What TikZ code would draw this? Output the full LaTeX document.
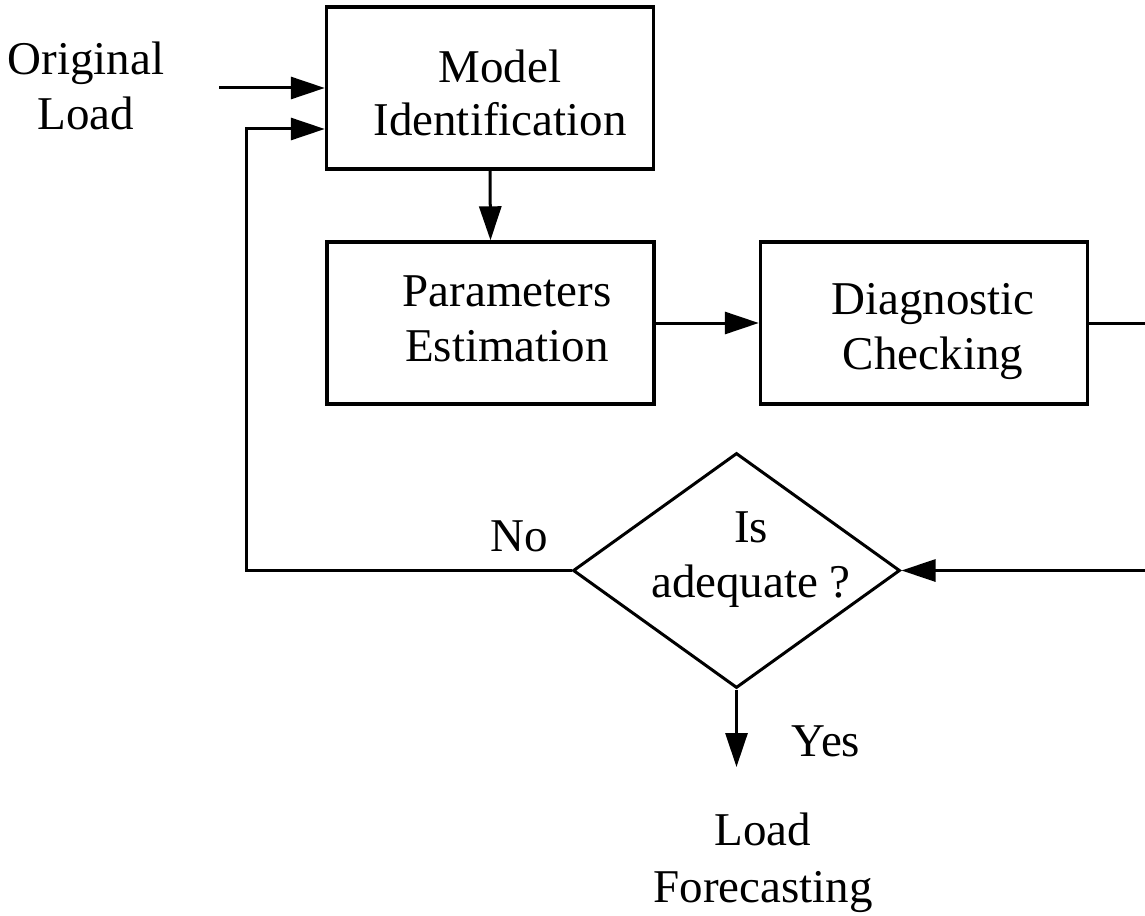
\documentclass[tikz,border=0pt]{standalone}
\usepackage{fontspec}
\setmainfont{Liberation Serif}
\usetikzlibrary{arrows.meta,shapes.geometric}
\begin{document}
\begin{tikzpicture}[x=0.5pt,y=-0.5pt,
  box/.style={draw,line width=1.7pt,minimum width=163.5pt,minimum height=81pt,inner sep=0pt},
  decision/.style={diamond,draw,line width=1.5pt,minimum width=163.5pt,minimum height=117.5pt,inner sep=0pt},
  lbl/.style={font=\fontsize{23.5pt}{27.5pt}\selectfont,align=center,inner sep=0pt},
  conn/.style={line width=1.5pt},
  arr/.style={conn,-{Triangle[length=17pt,width=11pt]}}]
\clip (0,0) rectangle (1145,915);
% boxes
\node[box] (mi) at (490,88) {};
\node[box] (pe) at (490.5,323) {};
\node[box] (dc) at (924,323) {};
\node[decision] (dia) at (736.5,570.5) {};
% texts
\node[lbl] (olt) at (86,85.5) {Original\\Load};
\node[lbl,font=\fontsize{23.5pt}{26.5pt}\selectfont] (mit) at (500,92.5) {Model\\Identification};
\node[lbl] (pet) at (507,319) {Parameters\\Estimation};
\node[lbl] (dct) at (933,331.5) {Diagnostic\\Checking};
\node[lbl] (diat) at (751,560) {Is\\adequate ?};
\node[lbl] (no) at (519,536.5) {No};
\node[lbl] (yes) at (826,741) {Yes};
\node[lbl,font=\fontsize{23.5pt}{28.5pt}\selectfont] (lf) at (763,862.5) {Load\\Forecasting};
% connectors
\coordinate (ols) at (219,88);
\coordinate (fb) at (246,129);
\coordinate (rt) at (1190,323);
\coordinate (yesend) at (736.5,767);
\draw[arr] (ols) -- (mi.west |- ols);
\draw[arr] (dia.west) -| (fb) -- (fb -| mi.west);
\draw[arr] (mi.south) -- (pe.north);
\draw[arr] (pe.east) -- (dc.west);
\draw[arr] (dc.east) -- (rt) |- (dia.east);
\draw[arr] (dia.south) -- (yesend);
\end{tikzpicture}
\end{document}
